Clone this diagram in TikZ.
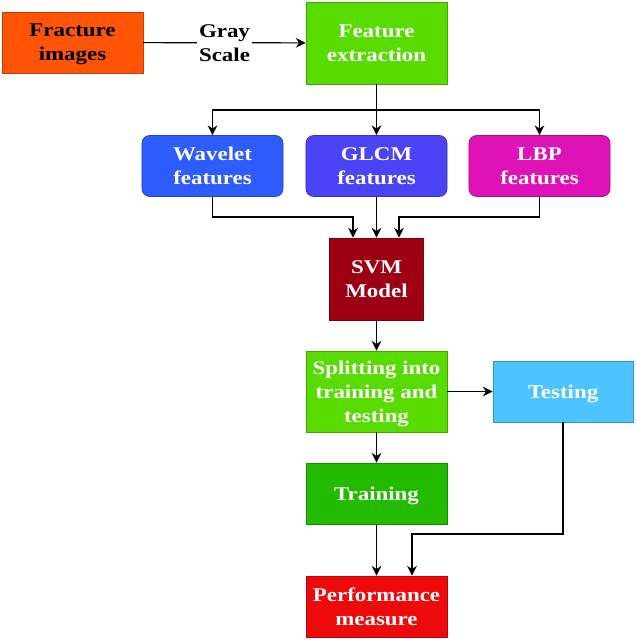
\documentclass[tikz,border=0pt]{standalone}
\usepackage{fontspec}
\setmainfont{Liberation Serif}[FakeStretch=1.18]
\usetikzlibrary{arrows.meta}
\usetikzlibrary{positioning}

\definecolor{fracorange}{HTML}{FF5305}
\definecolor{featgreen}{HTML}{58DC00}
\definecolor{waveblue}{HTML}{2E5CFF}
\definecolor{glcmblue}{HTML}{4A44F6}
\definecolor{lbppink}{HTML}{DE12B6}
\definecolor{svmred}{HTML}{9C0012}
\definecolor{testblue}{HTML}{4CC4FF}
\definecolor{traingreen}{HTML}{22BB00}
\definecolor{perfred}{HTML}{EE0A0A}

\tikzset{
    boxtext/.style={align=center, font=\fontsize{13.8}{17}\selectfont\bfseries,
        text depth=-5pt},
    oneline/.style={text depth=-1.5pt},
    box/.style={draw, line width=0.5pt, inner sep=0pt, boxtext, text=white,
        minimum width=3.525cm, minimum height=1.525cm},
    featbox/.style={box, rounded corners=5.5pt},
    arrow/.style={line width=0.85pt, -{Stealth[length=7pt, width=7pt]}}
}

\begin{document}
\begin{tikzpicture}[x=0.025cm, y=-0.025cm]
    \useasboundingbox (0,0) rectangle (636,640);

    \node [box, fill=fracorange, draw=fracorange!75!black, text=black] (fracture) at (72.5,42.5) {Fracture\\images};
    \node [box, fill=featgreen, draw=featgreen!75!black, minimum height=2.05cm] (extract) at (376.5,43) {Feature\\extraction};

    \node [featbox, fill=waveblue, draw=waveblue!75!black] (wavelet) at (212.5,166) {Wavelet\\features};
    \node [featbox, fill=glcmblue, draw=glcmblue!75!black] (glcm) at (376.5,166) {GLCM\\features};
    \node [featbox, fill=lbppink, draw=lbppink!75!black] (lbp) at (539.5,166) {LBP\\features};

    \node [box, fill=svmred, draw=svmred!75!black, minimum width=2.35cm, minimum height=2.05cm] (svm) at (376.5,279) {SVM\\Model};
    \node [box, fill=featgreen, draw=featgreen!75!black, minimum height=2.025cm] (split) at (376.5,391.5) {Splitting into\\training and\\testing};
    \node [box, oneline, fill=testblue, draw=testblue!75!black, minimum width=3.5cm] (testing) at (563,391.5) {Testing};
    \node [box, oneline, fill=traingreen, draw=traingreen!75!black] (training) at (376.5,493.5) {Training};
    \node [box, fill=perfred, draw=perfred!75!black] (perf) at (376.5,606.5) {Performance\\measure};

    \coordinate (fork) at (376.5,110);
    \coordinate (inL) at (353,217);
    \coordinate (inR) at (399,217);
    \coordinate (bend) at (412,534);

    \draw [arrow] (fracture) -- node [fill=white, inner sep=1.5pt, boxtext, text depth=-2pt] (gray) {Gray\\Scale} (extract);

    \draw [line width=0.85pt] (extract) -- (fork);
    \draw [arrow] (fork) -| (wavelet);
    \draw [arrow] (fork) -- (glcm);
    \draw [arrow] (fork) -| (lbp);

    \draw [arrow] (wavelet) |- (inL) -- (inL |- svm.north);
    \draw [arrow] (glcm) -- (svm);
    \draw [arrow] (lbp) |- (inR) -- (inR |- svm.north);

    \draw [arrow] (svm) -- (split);
    \draw [arrow] (split) -- (testing);
    \draw [arrow] (split) -- (training);
    \draw [arrow] (training) -- (perf);
    \draw [arrow] (testing) |- (bend) -- (bend |- perf.north);

\end{tikzpicture}
\end{document}
